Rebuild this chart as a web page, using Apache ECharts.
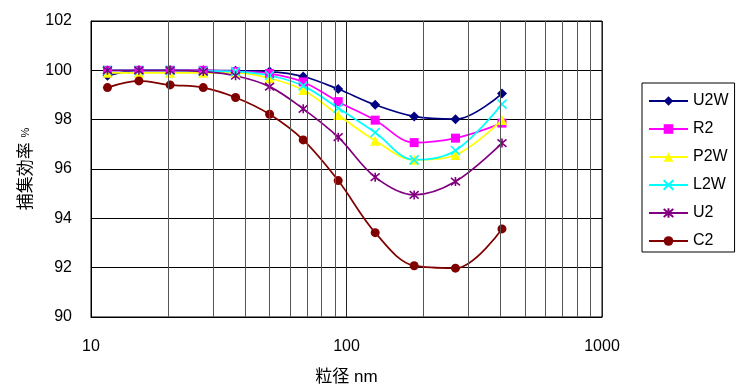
<!DOCTYPE html>
<html><head><meta charset="utf-8">
<script src="https://cdn.jsdelivr.net/npm/echarts@6/dist/echarts.min.js"></script>
<style>html,body{margin:0;padding:0;background:#fff}#c{width:738px;height:385px}</style>
</head><body><div id="c"></div>
<script>
const sizes = [11.6, 15.4, 20.4, 27.5, 36.8, 50.0, 67.7, 92.8, 129.5, 184, 267, 406];
const U2W = [99.78, 100.0, 100.0, 100.0, 99.98, 99.95, 99.75, 99.24, 98.6, 98.13, 98.02, 99.06];
const R2  = [100.0, 100.0, 100.0, 100.0, 99.95, 99.87, 99.53, 98.73, 97.98, 97.07, 97.25, 97.86];
const P2W = [99.9, 99.9, 99.9, 99.9, 99.9, 99.68, 99.2, 98.19, 97.15, 96.37, 96.57, 97.99];
const L2W = [100.0, 100.0, 100.0, 99.97, 99.95, 99.79, 99.37, 98.47, 97.48, 96.37, 96.75, 98.63];
const U2  = [100.0, 100.0, 100.0, 99.95, 99.78, 99.34, 98.44, 97.29, 95.67, 94.95, 95.49, 97.05];
const C2  = [99.30, 99.57, 99.41, 99.30, 98.90, 98.22, 97.18, 95.53, 93.42, 92.08, 91.98, 93.57];
const minorX = [20,30,40,50,60,70,80,90,200,300,400,500,600,700,800,900];
const yTicks = [90, 92, 94, 96, 98, 100, 102];

const font = "'Liberation Sans', Arial, 'Noto Sans CJK JP', sans-serif";
const cross = 'path://M0,0L10,10M10,0L0,10';
const star = 'path://M0,0L10,10M10,0L0,10M5,-1L5,11';
function pts(v){ return sizes.map((s,i)=>[s, v[i]]); }
function mk(name, data, color, symbol, size, stroke){
  return {
    name, type:'line', data: pts(data), smooth: 0.35, z: 3,
    symbol, symbolSize: size, showSymbol: true,
    lineStyle: {color, width: 1.7},
    itemStyle: stroke ? {color: 'rgba(0,0,0,0)', borderColor: color, borderWidth: 1.6} : {color, borderColor: color, borderWidth: 0},
    emphasis: {disabled: true}
  };
}
const chart = echarts.init(document.getElementById('c'));
chart.setOption({
  animation: false,
  backgroundColor: '#fff',
  textStyle: {fontFamily: font},
  grid: {left: 91, right: 136, top: 21, bottom: 68, show: true, borderColor: '#000', borderWidth: 1, outerBoundsMode: 'none', containLabel: false},
  legend: {
    data: ['U2W','R2','P2W','L2W','U2','C2'],
    orient: 'vertical', left: 642, top: 83, width: 94,
    padding: [10, 6, 3, 6], itemGap: 12, itemWidth: 39, itemHeight: 12,
    borderColor: '#000', borderWidth: 1,
    textStyle: {fontFamily: font, fontSize: 16, color: '#000', padding: [0,0,0,0]}
  },
  xAxis: {
    type: 'log', logBase: 10, min: 10, max: 1000, splitNumber: 2,
    name: '粒径 nm', nameLocation: 'middle', nameGap: 52,
    nameTextStyle: {fontFamily: font, fontSize: 17, color: '#000'},
    axisLine: {lineStyle: {color: '#000', width: 1}},
    axisTick: {show: false},
    axisLabel: {color: '#000', fontSize: 16, margin: 22, fontFamily: font, formatter: v => String(Math.round(v))},
    splitLine: {show: true, lineStyle: {color: '#222', width: 1}}
  },
  yAxis: {
    type: 'value', min: yTicks[0], max: yTicks[yTicks.length-1], interval: 2,
    name: '捕集効率 {s|%}', nameLocation: 'middle', nameGap: 55, nameRotate: 90,
    nameTextStyle: {fontFamily: font, fontSize: 17, color: '#000', rich: {s: {fontSize: 11, fontFamily: font, color: '#000'}}},
    axisLine: {show: true, lineStyle: {color: '#000', width: 1}},
    axisTick: {show: false},
    axisLabel: {color: '#000', fontSize: 16, margin: 19, fontFamily: font},
    splitLine: {show: true, lineStyle: {color: '#000', width: 1}}
  },
  series: [
    {
      name: 'grid', type: 'line', data: [], z: 1, silent: true,
      markLine: {
        silent: true, symbol: ['none','none'], label: {show: false},
        lineStyle: {color: '#555', width: 1, type: 'solid'},
        emphasis: {disabled: true},
        data: minorX.map(v => ({xAxis: v}))
      }
    },
    mk('U2W', U2W, '#000080', 'diamond', 10, false),
    mk('R2', R2, '#FF00FF', 'rect', 9, false),
    mk('P2W', P2W, '#FFFF00', 'triangle', 10, false),
    mk('L2W', L2W, '#00FFFF', cross, 9, true),
    mk('U2', U2, '#800080', star, 9, true),
    mk('C2', C2, '#800000', 'circle', 9, false)
  ]
});
</script>
</body></html>
